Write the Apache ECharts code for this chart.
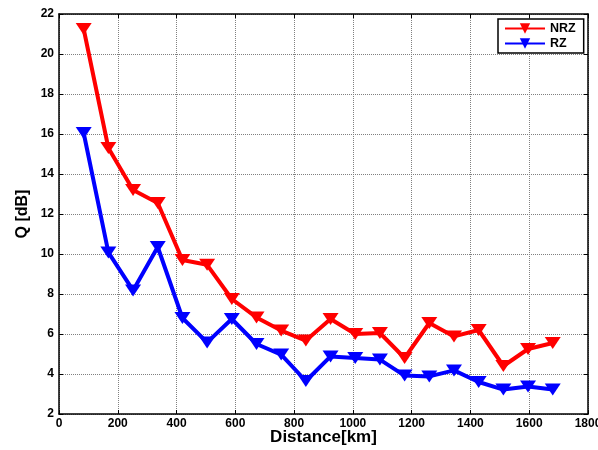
<!DOCTYPE html>
<html>
<head>
<meta charset="utf-8">
<script src="https://cdn.jsdelivr.net/npm/echarts@6/dist/echarts.min.js"></script>
<style>
  html, body { margin: 0; padding: 0; background: #fff; }
  #chart { width: 598px; height: 450px; }
</style>
</head>
<body>
<div id="chart"></div>
<script>
// Transmission distance (km) for each measured span
const distanceKm = [84, 168, 252, 336, 420, 504, 588, 672, 756, 840, 924, 1008, 1092, 1176, 1260, 1344, 1428, 1512, 1596, 1680];
// Q factor (dB) for each modulation format
const qNRZ = [21.25, 15.3, 13.2, 12.55, 9.7, 9.46, 7.75, 6.83, 6.17, 5.67, 6.75, 6.0, 6.05, 4.8, 6.55, 5.88, 6.2, 4.4, 5.25, 5.55];
const qRZ = [16.05, 10.08, 8.18, 10.35, 6.8, 5.58, 6.75, 5.5, 4.97, 3.65, 4.88, 4.8, 4.72, 3.92, 3.88, 4.18, 3.6, 3.22, 3.38, 3.22];
const seriesNames = ['NRZ', 'RZ'];
const seriesColors = ['#ff0000', '#0000ff'];

const font = 'Liberation Sans, Arial, sans-serif';
const pairs = (xs, ys) => xs.map((x, i) => [x, ys[i]]);

const axisLine = { show: true, onZero: false, lineStyle: { color: '#000', width: 1.5 } };
const tickIn = { show: true, inside: true, length: 4, lineStyle: { color: '#000', width: 1 } };
const gridLines = { show: true, lineStyle: { color: '#808080', type: [1, 1], width: 1 } };
const tickLabel = {
  color: '#000', fontFamily: font, fontWeight: 'bold', fontSize: 12,
  formatter: v => String(v)
};

const chart = echarts.init(document.getElementById('chart'), null, { renderer: 'canvas' });

function lineSeries(name, data, color) {
  return {
    name: name,
    type: 'line',
    data: data,
    symbol: 'triangle',
    symbolSize: [16, 12],
    symbolRotate: 180,
    showAllSymbol: true,
    lineStyle: { color: color, width: 4 },
    itemStyle: { color: color },
    animation: false,
    z: 3
  };
}

chart.setOption({
  animation: false,
  grid: { left: 59, right: 10, top: 14, bottom: 36, containLabel: false, outerBoundsMode: 'none' },
  legend: {
    data: seriesNames,
    orient: 'vertical',
    left: 498,
    top: 19,
    padding: [3, 8, 3, 6],
    itemGap: 2,
    itemWidth: 40,
    itemHeight: 13,
    borderColor: '#000',
    borderWidth: 1.5,
    backgroundColor: '#fff',
    textStyle: { color: '#000', fontFamily: font, fontWeight: 'bold', fontSize: 12.5 }
  },
  xAxis: [
    {
      type: 'value', min: 0, max: 1800, interval: 200,
      name: 'Distance[km]', nameLocation: 'middle', nameGap: 15, nameMoveOverlap: false,
      nameTextStyle: { color: '#000', fontFamily: font, fontWeight: 'bold', fontSize: 17 },
      axisLine: axisLine, axisTick: tickIn, splitLine: gridLines,
      axisLabel: Object.assign({ margin: 4 }, tickLabel)
    },
    {
      type: 'value', position: 'top', min: 0, max: 1800, interval: 200,
      axisLine: axisLine, axisTick: tickIn, splitLine: { show: false },
      axisLabel: { show: false }
    }
  ],
  yAxis: [
    {
      type: 'value', min: 2, max: 22, interval: 2,
      name: 'Q [dB]', nameLocation: 'middle', nameGap: 28, nameRotate: 90, nameMoveOverlap: false,
      nameTextStyle: { color: '#000', fontFamily: font, fontWeight: 'bold', fontSize: 16 },
      axisLine: axisLine, axisTick: tickIn, splitLine: gridLines,
      axisLabel: Object.assign({ margin: 5 }, tickLabel)
    },
    {
      type: 'value', position: 'right', min: 2, max: 22, interval: 2,
      axisLine: axisLine, axisTick: tickIn, splitLine: { show: false },
      axisLabel: { show: false }
    }
  ],
  series: [
    lineSeries(seriesNames[0], pairs(distanceKm, qNRZ), seriesColors[0]),
    lineSeries(seriesNames[1], pairs(distanceKm, qRZ), seriesColors[1])
  ]
});
</script>
</body>
</html>
